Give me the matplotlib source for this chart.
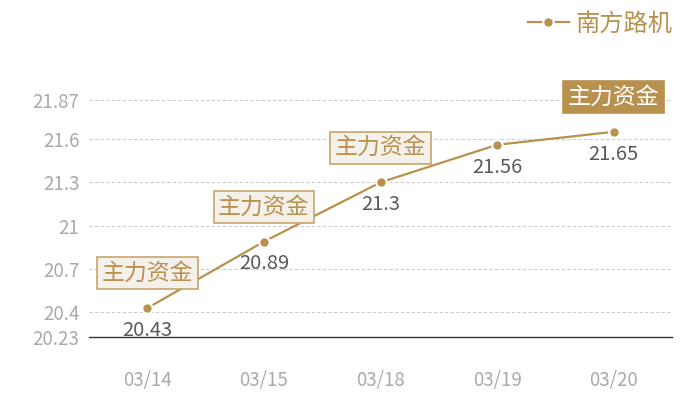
import matplotlib
matplotlib.use("Agg")
import matplotlib.pyplot as plt
from matplotlib.lines import Line2D

plt.rcParams['font.family'] = ['Noto Sans CJK SC', 'DejaVu Sans']

dates = ['03/14', '03/15', '03/18', '03/19', '03/20']
prices = [20.43, 20.89, 21.3, 21.56, 21.65]
series_name = '南方路机'
mark_label = '主力资金'
mark_dates = ['03/14', '03/15', '03/18', '03/20']
highlight_dates = ['03/20']
yticks = [20.23, 20.4, 20.7, 21, 21.3, 21.6, 21.87]
ytick_labels = ['20.23', '20.4', '20.7', '21', '21.3', '21.6', '21.87']

GOLD = '#b8914f'
BOX_FILL = '#f4f0ea'
BOX_EDGE = '#c9a46b'

fig = plt.figure(figsize=(7, 4), dpi=100)
ax = fig.add_axes([89/700, 63/400, 583/700, 237/400])

x = list(range(len(dates)))
ax.plot(x, prices, color=GOLD, lw=1.6, zorder=3,
        marker='o', markersize=7.5, markerfacecolor=GOLD,
        markeredgecolor='white', markeredgewidth=1.5)

ax.set_xlim(-0.5, len(dates) - 0.5)
ax.set_ylim(yticks[0], yticks[-1])
ax.set_xticks(x)
ax.set_xticklabels(dates)
ax.set_yticks(yticks)
ax.set_yticklabels(ytick_labels)
ax.tick_params(axis='both', length=0, colors='#aaaaaa', labelsize=13.5)
ax.tick_params(axis='x', pad=24)
ax.tick_params(axis='y', pad=7)

for t in yticks[1:]:
    ax.axhline(t, color='#cccccc', lw=0.8, ls=(0, (3, 2)), zorder=1)
for s in ['top', 'right', 'left']:
    ax.spines[s].set_visible(False)
ax.spines['bottom'].set_color('#333333')
ax.spines['bottom'].set_linewidth(1.0)
ax.spines['bottom'].set_zorder(5)

for xi, v in zip(x, prices):
    ax.annotate(f'{v:g}', (xi, v), xytext=(0, -16), textcoords='offset points',
                ha='center', va='center', fontsize=14.5, color='#5a5a5a', zorder=4)

for xi, d, v in zip(x, dates, prices):
    if d in mark_dates:
        hl = d in highlight_dates
        ax.annotate(mark_label, (xi, v), xytext=(0, 25), textcoords='offset points',
                    ha='center', va='center', fontsize=16.5,
                    color='white' if hl else GOLD, zorder=6,
                    bbox=dict(boxstyle='square,pad=0.2',
                              fc=GOLD if hl else BOX_FILL,
                              ec=GOLD if hl else BOX_EDGE, lw=1.2))

handle = Line2D([0], [0], color=GOLD, lw=1.6, marker='o', markersize=7.5,
                markerfacecolor=GOLD, markeredgecolor='white', markeredgewidth=1.5)
leg = fig.legend([handle], [series_name], loc='upper right',
                 bbox_to_anchor=(683/700, 1.0), frameon=False, fontsize=17.5,
                 handlelength=1.7, handletextpad=0.25, borderaxespad=0.05)
for t in leg.get_texts():
    t.set_color(GOLD)

fig.savefig('out.png', dpi=100)
